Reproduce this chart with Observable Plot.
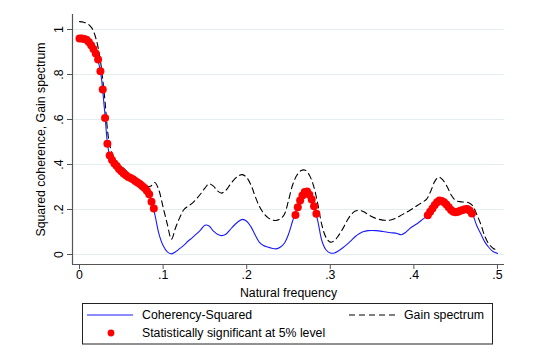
<!DOCTYPE html>
<html><head><meta charset="utf-8">
<script src="https://cdn.jsdelivr.net/npm/d3@7"></script>
<script src="https://cdn.jsdelivr.net/npm/@observablehq/plot@0.6"></script>
<style>
body{margin:0;background:#fff;}
#wrap{position:relative;width:552px;height:354px;background:#fff;font-family:"Liberation Sans",Arial,sans-serif;}
#legend{position:absolute;left:0;top:300px;}
</style></head><body>
<div id="wrap"><div id="chart"></div>
<svg id="legend" width="552" height="54" font-family="Liberation Sans, Arial, sans-serif" font-size="12.3">
<rect x="82.5" y="3.5" width="410" height="40.5" fill="#fff" stroke="#222" stroke-width="1"/>
<line x1="87" y1="15" x2="133" y2="15" stroke="#1a1aff" stroke-width="1.2"/>
<text x="142" y="19.3" fill="#000">Coherency-Squared</text>
<line x1="349" y1="15" x2="396" y2="15" stroke="#000" stroke-width="1.1" stroke-dasharray="6,4"/>
<text x="404" y="19.3" fill="#000">Gain spectrum</text>
<circle cx="111" cy="33" r="3.4" fill="#ff0000"/>
<text x="142" y="37.3" fill="#000">Statistically significant at 5% level</text>
</svg>
</div>
<script>
// Frequency grid for the two curves (step 0.005 from 0 to 0.5)
const gridStep = 0.005;
const coherency = [
 .96,.958,.945,.92,.885,.815,.64,.457,.415,.392,
 .37,.354,.342,.331,.318,.305,.287,.25,.18,.092,
 .04,.012,.003,.012,.027,.042,.06,.075,.092,.11,
 .13,.127,.105,.09,.084,.09,.11,.13,.147,.156,
 .148,.124,.088,.055,.04,.033,.028,.025,.032,.05,
 .09,.15,.205,.25,.278,.266,.22,.15,.06,.02,
 .007,.007,.017,.03,.045,.062,.08,.093,.102,.106,
 .107,.106,.104,.101,.098,.096,.093,.088,.098,.115,
 .128,.14,.155,.17,.2,.22,.24,.234,.216,.196,
 .188,.193,.2,.202,.18,.13,.092,.055,.03,.012,
 .005];
const gain = [
 1.035,1.032,1.025,1.005,.955,.86,.7,.51,.44,.41,
 .392,.375,.356,.342,.331,.318,.303,.303,.32,.285,
 .21,.135,.068,.12,.165,.2,.215,.228,.248,.27,
 .295,.314,.305,.283,.273,.285,.31,.333,.35,.355,
 .342,.31,.26,.215,.185,.165,.155,.151,.158,.178,
 .24,.31,.352,.373,.375,.352,.305,.225,.13,.075,
 .055,.062,.085,.115,.15,.178,.193,.196,.19,.178,
 .168,.16,.155,.152,.152,.157,.165,.175,.185,.196,
 .208,.22,.232,.245,.28,.325,.344,.33,.3,.262,
 .24,.235,.233,.231,.218,.18,.135,.08,.045,.027,
 .02];
// Significant frequencies: bins j/360
const binWidth = 1/360;
const sigBins1 = d3.range(0, 33);
const sigValues1 = [.96,.96,.958,.955,.945,.93,.913,.893,.867,.815,.733,.607,.492,.44,.42,.405,.393,.38,.37,.36,.352,.345,.34,.334,.327,.32,.313,.305,.296,.283,.268,.235,.205];
const sigBins2 = d3.range(93, 103);
const sigValues2 = [.176,.21,.24,.262,.278,.28,.266,.244,.215,.181];
const sigBins3 = d3.range(150, 170);
const sigValues3 = [.175,.19,.205,.22,.232,.24,.238,.232,.222,.21,.198,.19,.188,.19,.194,.198,.201,.202,.196,.182];
const xTicks = [0,.1,.2,.3,.4,.5];
const yTicks = [0,.2,.4,.6,.8,1];

const lineData = coherency.map((c,i)=>({f:i*gridStep, coh:c, gain:gain[i]}));
const sigData = [
 ...sigBins1.map((j,i)=>({f:j*binWidth, v:sigValues1[i]})),
 ...sigBins2.map((j,i)=>({f:j*binWidth, v:sigValues2[i]})),
 ...sigBins3.map((j,i)=>({f:j*binWidth, v:sigValues3[i]}))
];
const fmt = d => d===0 ? "0" : d===1 ? "1" : String(+d.toFixed(2)).replace(/^0\./, ".");
const x0=-0.0084, x1=0.5084, y0=-0.0444, y1=1.0667;

const chart = Plot.plot({
 width:552, height:300, marginLeft:72, marginRight:48, marginTop:14, marginBottom:36,
 style:{fontFamily:"'Liberation Sans', Arial, sans-serif", fontSize:"12.3px", color:"#000", background:"#fff", overflow:"visible"},
 x:{domain:[x0,x1]}, y:{domain:[y0,y1]},
 marks:[
  Plot.gridY(yTicks, {stroke:"#e4eef0", strokeOpacity:1, strokeWidth:1}),
  Plot.line(lineData, {x:"f", y:"gain", stroke:"#000", strokeWidth:1.1, strokeDasharray:"6,4", curve:"catmull-rom"}),
  Plot.line(lineData, {x:"f", y:"coh", stroke:"#1a1aff", strokeWidth:1.1, curve:"catmull-rom"}),
  Plot.dot(sigData, {x:"f", y:"v", r:4, fill:"#ff0000", stroke:null}),
  Plot.axisX(xTicks, {tickSize:5, tickPadding:1, stroke:"#555", tickFormat:fmt, label:"Natural frequency", labelAnchor:"center", labelOffset:32, labelArrow:"none"}),
  Plot.axisY(yTicks, {tickSize:5, tickPadding:5, tickRotate:-90, stroke:"#555", tickFormat:fmt, label:"Squared coherence, Gain spectrum", labelAnchor:"center", labelOffset:36, labelArrow:"none"}),
  Plot.ruleX([x0], {stroke:"#555", strokeWidth:1.2}),
  Plot.ruleY([y0], {stroke:"#555", strokeWidth:1.2})
 ]
});
document.getElementById("chart").appendChild(chart);
</script>
</body></html>
